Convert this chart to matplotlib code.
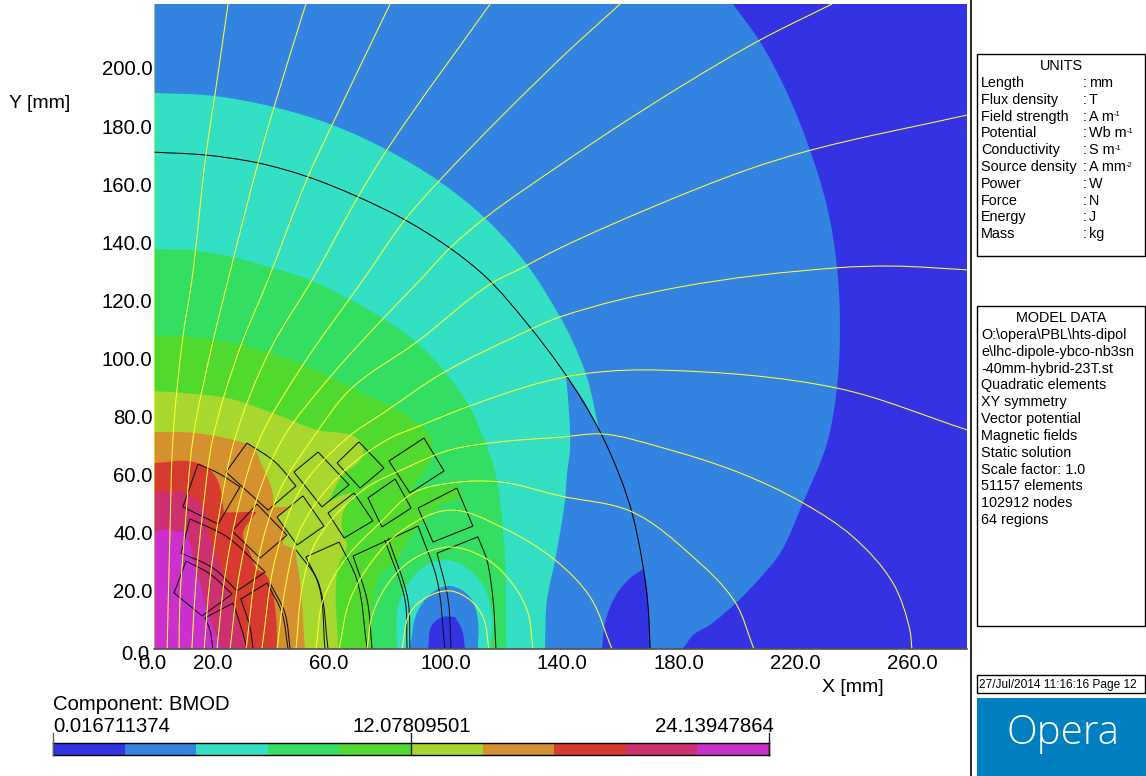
import matplotlib
matplotlib.use('Agg')
import numpy as np
from matplotlib import pyplot
from matplotlib.colors import BoundaryNorm, ListedColormap
from matplotlib.patches import PathPatch, Rectangle
from matplotlib.path import Path
from matplotlib.transforms import ScaledTranslation

pyplot.rcParams['font.family'] = ['Liberation Sans', 'DejaVu Sans']

X_TICKS = [0, 20, 60, 100, 140, 180, 220, 260]
Y_TICKS = [0, 20, 40, 60, 80, 100, 120, 140, 160, 180, 200]

# BMOD bands, colours from low to high
LEVELS = [0.016711374, 2.429, 4.841, 7.253, 9.665, 12.07809501, 14.490, 16.902, 19.315, 21.727, 24.13947864]
COLOURS = ['#3333E4', '#3383E0', '#33E0C4', '#33DE62', '#50DA30',
           '#A8D830', '#D59030', '#D63A30', '#CC3070', '#CC30CC']

# contour outlines in mm
blue_band = [(0, 222), (198.6, 222), (207.9, 209), (217.2, 191.4), (225, 171.8), (230.9, 152.2),
             (234.3, 131.5), (235.3, 108.8), (234.3, 90.2), (230.9, 70.9), (222.6, 50.3), (214.8, 33),
             (207.9, 24.4), (200, 16.2), (190.7, 8.3), (184.9, 4.8), (180.8, 0), (0, 0)]
dark_lobe = [(153.7, 0), (154.7, 8.9), (158.1, 17.9), (163.3, 24.4), (167.8, 27.5), (168.8, 23.8),
             (169.8, 11), (170.2, 0)]
teal_band = [(0, 191.4), (20.2, 190.4), (40.8, 186.6), (61.1, 180.4), (79.9, 171.8), (98.1, 160.8),
             (114.2, 147.7), (128, 132.2), (139.3, 114.3), (143.4, 106.4), (148.5, 93.6), (152.7, 75.4),
             (147.5, 85.5), (141.3, 94.3), (142.4, 81.2), (142.7, 68.5), (141.7, 60.6), (141, 51.3),
             (137.6, 30.6), (134.8, 16.9), (134.1, 0), (0, 0)]
green_band = [(0, 137.7), (13.4, 137.2), (27.1, 134.9), (40.8, 131.1), (53.5, 127), (66.9, 120.5),
              (78.9, 113.6), (89.9, 105.7), (99.5, 95.7), (107.7, 84.4), (113.2, 72.3), (117, 61),
              (118.7, 51.3), (120.4, 30.6), (120.8, 0), (0, 0)]
teal_lobe = [(83.4, 0), (83.7, 14.5), (88.9, 24.8), (94.7, 29.6), (101.5, 30.6), (109.4, 26.2),
             (114.2, 19.3), (116, 8.9), (115.3, 0)]
blue_lobe = [(87.8, 0), (90.2, 12.4), (95.7, 19.6), (101.5, 21.7), (108.4, 17.9), (111.1, 10), (111.1, 0)]
deep_lobe = [(94, 0), (95.4, 8.3), (99.1, 11), (103.3, 11), (105.7, 6.5), (106.7, 0)]
lime_band = [(0, 108.1), (9.9, 107.7), (30.5, 104.6), (51.1, 97.8), (70.7, 88.5), (83.4, 82.3),
             (90.2, 77.8), (93.7, 74.7), (95.7, 69.5), (94, 63.3), (87.8, 54.7), (95.7, 55.4),
             (103.9, 56.5), (106.3, 52.3), (98.1, 49.6), (93, 44.4), (87.8, 38.6), (83.4, 30.6),
             (77.5, 25.5), (75.1, 16.9), (74.8, 0), (0, 0)]
yellow_band = [(0, 88.8), (9.9, 88.1), (25, 86.4), (40.8, 81.2), (55.9, 75.4), (69.6, 72.6),
               (71.7, 69.2), (70.7, 65.1), (64.8, 59.9), (59.7, 50.6), (64.8, 53), (69, 54),
               (64.8, 46.8), (64.8, 39.2), (66.2, 35.8), (63.1, 28.2), (63.1, 0), (0, 0)]
orange_band = [(0, 74.7), (13.4, 74.4), (28.5, 71.6), (34, 69.5), (36.7, 64), (40.5, 54.7),
               (41.2, 48.9), (46.7, 48.9), (42.2, 45.4), (45.6, 41), (44.2, 36.1), (48.4, 34.1),
               (50.1, 22.7), (51.8, 0), (0, 0)]
red_band = [(0, 64), (13.4, 64.4), (20.2, 60.6), (22.6, 55.8), (24, 47), (35.3, 47.2), (30.5, 39.6),
            (33, 33), (35.3, 27.5), (38.1, 25.8), (39.8, 22.7), (41.9, 11), (42.2, 0), (0, 0)]
crimson_band = [(0, 54), (10.6, 53.7), (17.5, 47.8), (18.5, 41), (20.2, 35.8), (24.4, 23.8),
                (28.5, 11), (31.9, 0), (0, 0)]
magenta_band = [(0, 40.3), (4.5, 41.3), (8.2, 40.3), (11.3, 41), (13, 33), (15.8, 22.7),
                (18.5, 12.4), (23.3, 0), (0, 0)]

# iron outer edge
iron_edge = [(0, 171), (17.8, 170), (35.7, 167.3), (52.8, 162.5), (70, 155.6), (86.1, 147.7),
             (101.5, 138), (114.2, 127.7), (128, 112), (141.3, 94.3), (152.7, 75.4), (159.9, 59.2),
             (164, 46.8), (167.4, 30.6), (169.5, 14.5), (170.2, 0)]

# coil blocks and arcs
coil_blocks = [
    [(11, 30.3), (19.2, 25.8), (26.8, 18.9), (16.5, 11.4), (6.9, 19.3), (11, 30.3)],
    [(12.3, 44.8), (25, 38.6), (38.1, 26.5), (28.5, 20), (20.2, 27.9), (9.3, 33), (12.3, 44.8)],
    [(15.1, 63.7), (22.6, 60.2), (29.5, 55.8), (22, 43), (9.9, 48.9), (15.1, 63.7)],
    [(31.9, 70.9), (41.5, 64.4), (48.7, 56.1), (39.1, 47.8), (24.7, 60.9), (31.9, 70.9)],
    [(35.3, 49.9), (45.6, 39.2), (36.4, 31.3), (26.8, 40.6), (35.3, 49.9)],
    [(51.1, 52.7), (58.3, 42.3), (49.1, 35.8), (42.2, 45.4), (51.1, 52.7)],
    [(56.3, 67.8), (66.9, 56.5), (57.6, 48.9), (48, 60.9), (56.3, 67.8)],
    [(70.3, 71.3), (78.9, 62.3), (70.7, 55.4), (62.8, 64), (70.3, 71.3)],
    [(92.6, 72.6), (99.5, 61.3), (87.8, 53.7), (80.6, 64.7), (92.6, 72.6)],
    [(82.7, 58.5), (88.2, 48.5), (78.2, 42), (73.4, 52), (82.7, 58.5)],
    [(68.6, 53.7), (75.1, 44.1), (65.2, 38.2), (59.7, 46.8), (68.6, 53.7)],
    [(103.9, 55.4), (109.4, 42.3), (95.7, 36.8), (90.6, 48.5), (103.9, 55.4)],
]
coil_arcs = [
    [(20.2, 0), (19.2, 6.5), (17.5, 10.7), (27.1, 15.8), (30.5, 5.5), (31.9, 0)],
    [(34, 0), (32.9, 7.6), (29.8, 17.2), (38.8, 22.7), (43.9, 12.4), (46, 0)],
    [(39.8, 22.7), (44.9, 12.4), (46.7, 0)],
    [(48.7, 34.1), (55.9, 23.8), (58.7, 0)],
    [(59.7, 0), (56.9, 21.3), (52.1, 31.7), (63.5, 36.8), (69.6, 23.8), (73.1, 0)],
    [(74.8, 0), (73.1, 16.9), (68.3, 32), (90.6, 42.3), (97.1, 23.8), (99.8, 0)],
    [(79.2, 37.5), (86.1, 16.9), (86.8, 0)],
    [(80.3, 38.2), (87.1, 16.9), (87.8, 0)],
    [(101.9, 0), (100.9, 16.9), (97.1, 33), (111.1, 38.6), (114.2, 30.6), (116.3, 16.9), (117.3, 0)],
]

# flux lines
flux_lines = [
    [(0, 0), (0, 222)],
    [(25.4, 222), (20.9, 190.7), (17.8, 170), (13, 127), (9.9, 107.4), (6.5, 72.6), (5.5, 41), (4.5, 0)],
    [(52.1, 222), (41.2, 186.6), (35.7, 167.3), (25.4, 127), (20.2, 105.7), (13.4, 72.6), (10.6, 41),
     (8.9, 16.9), (8.6, 0)],
    [(81, 222), (61.1, 180.4), (52.8, 162.5), (39.1, 127), (29.5, 103.6), (20.2, 72.6), (16.8, 47.8),
     (14.4, 23.8), (13, 0)],
    [(115.3, 222), (79.9, 171.8), (70, 155.6), (54.2, 127), (39.8, 102.9), (27.8, 72.6), (22.6, 47.8),
     (19.2, 23.8), (17.2, 0)],
    [(159.9, 222), (139.3, 203.1), (98.1, 161.4), (86.1, 147.7), (71.7, 127), (51.1, 97.8), (36.4, 72.6),
     (29.5, 51.3), (24.4, 25.5), (21.6, 0)],
    [(232.6, 222), (207.9, 209.6), (181.5, 194.1), (159.9, 180.4), (139.3, 166.6), (113.6, 148.4),
     (101.5, 138), (91.3, 127), (78.2, 113.3), (60.4, 93.6), (44.3, 72.6), (35.7, 53), (29.5, 27.2), (26.1, 0)],
    [(279, 183.8), (225.7, 171.8), (203.4, 164.9), (171.2, 152.2), (139.3, 138), (124.9, 130.5), (116, 126),
     (90.2, 105.7), (67.2, 89.2), (54.5, 72.6), (43.2, 54.7), (35.7, 30.6), (31.6, 0)],
    [(279, 130.5), (253.5, 131.8), (234.3, 131.2), (180.4, 124.6), (139.3, 114.3), (126.6, 108.8), (99.1, 95),
     (78.6, 81.2), (66.2, 72.6), (50.1, 54.7), (41.5, 30.6), (37, 0)],
    [(279, 75.4), (234.3, 89.8), (173.6, 96), (149.6, 95), (132.4, 91.6), (107.4, 83.3), (90.2, 76.4),
     (81, 72.6), (63.8, 59.9), (50.1, 41), (44.9, 20.3), (42.2, 0)],
    [(48.7, 0), (51.1, 22.7), (55.9, 37.5), (71.7, 54.7), (86.8, 62.5), (101.5, 68.5), (118.7, 71.3),
     (139.3, 72.9), (154, 74), (173.6, 69.5), (201, 60.6), (222.6, 50.3), (239.8, 38.6), (253.5, 22.7),
     (259.3, 6.5), (260, 0)],
    [(55.6, 0), (58, 16.9), (66.2, 31.7), (77.5, 43.4), (88.9, 53.7), (101.5, 57.1), (118.7, 57.5),
     (139.3, 52.7), (164, 47.2), (184.9, 31.7), (199.3, 16.2), (205.8, 0)],
    [(63.5, 0), (67.2, 16.9), (75.1, 30.6), (85.4, 41), (101.5, 47.8), (119.7, 41.7), (137.6, 30.6),
     (149.6, 17.9), (157.1, 0)],
    [(73.1, 0), (75.1, 12.4), (82, 24.8), (90.2, 31.7), (101.5, 35.1), (112.9, 31.7), (121.1, 24.8),
     (128, 13.4), (130, 0)],
    [(85.1, 0), (87.8, 12.4), (93.7, 17.9), (101.5, 20), (108.4, 16.9), (112.9, 11), (114.9, 0)],
]

UNIT_NAMES = ['Length', 'Flux density', 'Field strength', 'Potential', 'Conductivity', 'Source density',
              'Power', 'Force', 'Energy', 'Mass']
UNIT_VALUES = ['mm', 'T', 'A m', 'Wb m', 'S m', 'A mm', 'W', 'N', 'J', 'kg']
UNIT_POWERS = ['', '', '-1', '-1', '-1', '-2', '', '', '', '']
MODEL_LINES = ['O:\\opera\\PBL\\hts-dipol', 'e\\lhc-dipole-ybco-nb3sn', '-40mm-hybrid-23T.st',
               'Quadratic elements', 'XY symmetry', 'Vector potential', 'Magnetic fields', 'Static solution',
               'Scale factor: 1.0', '51157 elements', '102912 nodes', '64 regions']


def curve_through(points, close=False):
    # bezier path through the read points, sharp bends stay sharp
    pts = np.array(points, dtype=float)
    verts = [pts[0]]
    codes = [Path.MOVETO]
    n = len(pts)

    # last leg down to the origin corner is a plain line
    for i in range(n - 1):
        p0, p1 = pts[i], pts[i + 1]
        seg = p1 - p0
        length = np.hypot(*seg)
        start = tangent(pts, i, seg / length)
        end = tangent(pts, i + 1, seg / length)
        verts += [p0 + start * length / 3, p1 - end * length / 3, p1]
        codes += [Path.CURVE4, Path.CURVE4, Path.CURVE4]

    if close:
        verts.append(pts[0])
        codes.append(Path.CLOSEPOLY)
    return Path(verts, codes)


def tangent(pts, i, fallback):
    if i == 0 or i == len(pts) - 1:
        return fallback
    a = pts[i] - pts[i - 1]
    b = pts[i + 1] - pts[i]
    a = a / np.hypot(*a)
    b = b / np.hypot(*b)
    if a @ b < 0.6:
        return fallback
    t = a + b
    return t / np.hypot(*t)


def fill_band(ax, outline, colour):
    ax.add_patch(PathPatch(curve_through(outline, close=True), facecolor=colour, edgecolor='none', linewidth=0))


def draw_line(ax, points, colour):
    ax.add_patch(PathPatch(curve_through(points), facecolor='none', edgecolor=colour, linewidth=0.75))


def draw_field(fig):
    ax = fig.add_axes([154 / 1146, 127 / 776, 813 / 1146, 645 / 776])
    ax.set_facecolor(COLOURS[0])
    ax.set_xlim(0, 278.9)
    ax.set_ylim(0, 222)

    fill_band(ax, blue_band, COLOURS[1])
    fill_band(ax, dark_lobe, COLOURS[0])
    fill_band(ax, teal_band, COLOURS[2])
    fill_band(ax, green_band, COLOURS[3])
    fill_band(ax, teal_lobe, COLOURS[2])
    fill_band(ax, blue_lobe, COLOURS[1])
    fill_band(ax, deep_lobe, COLOURS[0])
    fill_band(ax, lime_band, COLOURS[4])
    fill_band(ax, yellow_band, COLOURS[5])
    fill_band(ax, orange_band, COLOURS[6])
    fill_band(ax, red_band, COLOURS[7])
    fill_band(ax, crimson_band, COLOURS[8])
    fill_band(ax, magenta_band, COLOURS[9])

    draw_line(ax, iron_edge, 'black')
    for block in coil_blocks + coil_arcs:
        draw_line(ax, block, '#101010')
    for line in flux_lines:
        draw_line(ax, line, '#FFFF33')

    for side in ['top', 'right', 'left']:
        ax.spines[side].set_visible(False)
    ax.spines['bottom'].set_color('#505050')
    ax.spines['bottom'].set_linewidth(1.2)

    ax.set_xticks(X_TICKS, ['%.1f' % v for v in X_TICKS], fontsize=14.7)
    ax.set_yticks(Y_TICKS, ['%.1f' % v for v in Y_TICKS], fontsize=14.7)
    ax.tick_params(length=0)
    ax.tick_params(axis='x', pad=3.5)
    ax.tick_params(axis='y', pad=1)

    # the two 0.0 labels sit a little off their ticks
    ax.get_yticklabels()[0].set_transform(ax.get_yticklabels()[0].get_transform()
                                          + ScaledTranslation(-3 / 100, -3 / 100, fig.dpi_scale_trans))
    ax.get_xticklabels()[0].set_transform(ax.get_xticklabels()[0].get_transform()
                                          + ScaledTranslation(-2 / 100, 0, fig.dpi_scale_trans))
    return ax


def draw_scale(fig):
    ax = fig.add_axes([53 / 1146, 21 / 776, 716 / 1146, 12 / 776])
    ax.pcolormesh(LEVELS, [0, 1], [LEVELS[:-1]], cmap=ListedColormap(COLOURS), norm=BoundaryNorm(LEVELS, 10))
    ax.set_xticks([])
    ax.set_yticks([])
    for spine in ax.spines.values():
        spine.set_color('black')
        spine.set_linewidth(1)


def draw_panels(fig):
    panel = fig.add_axes([0, 0, 1, 1])
    panel.set_xlim(0, 1146)
    panel.set_ylim(776, 0)
    panel.axis('off')
    panel.patch.set_alpha(0)

    panel.plot([971, 971], [0, 776], color='black', linewidth=1.2)
    panel.text(9, 103, 'Y [mm]', fontsize=14, va='center')
    panel.text(822, 687, 'X [mm]', fontsize=14, va='center')

    # scale texts
    panel.text(53, 704, 'Component: BMOD', fontsize=14.6, va='center')
    panel.text(53, 726, '%.9f' % LEVELS[0], fontsize=14.7, va='center')
    panel.text(412, 726, '%.8f' % LEVELS[5], fontsize=14.7, va='center', ha='center')
    panel.text(774, 726, '%.8f' % LEVELS[10], fontsize=14.7, va='center', ha='right')
    panel.plot([53, 53], [733, 755], color='#606060', linewidth=1)
    panel.plot([411, 411], [733, 755], color='#202020', linewidth=1)
    panel.plot([769, 769], [733, 755], color='#202020', linewidth=1)

    # units box
    panel.add_patch(Rectangle((977, 54), 168, 202, fc='white', ec='black', lw=1))
    panel.text(1061, 66, 'UNITS', fontsize=10.4, va='center', ha='center')
    for i, name in enumerate(UNIT_NAMES):
        y = 83 + i * 16.8
        panel.text(981, y, name, fontsize=10.4, va='center')
        panel.text(1083, y, ':', fontsize=10.4, va='center')
        value = panel.text(1089, y, UNIT_VALUES[i], fontsize=10.4, va='center')
        if UNIT_POWERS[i]:
            panel.annotate(UNIT_POWERS[i], xy=(1, 0.38), xycoords=value, fontsize=5.5, va='bottom', ha='left')

    # model data box
    panel.add_patch(Rectangle((977, 306), 168, 320, fc='white', ec='black', lw=1))
    panel.text(1061, 318, 'MODEL DATA', fontsize=10.4, va='center', ha='center')
    for i, line in enumerate(MODEL_LINES):
        panel.text(981, 335 + i * 16.83, line, fontsize=10.4, va='center')

    # date and logo
    panel.add_patch(Rectangle((977, 675), 168, 18, fc='white', ec='black', lw=1))
    panel.text(979, 685, '27/Jul/2014 11:16:16 Page 12', fontsize=8.6, va='center')
    panel.add_patch(Rectangle((977, 698), 169, 78, fc='#0080C0', ec='none'))
    panel.text(1063, 733, 'Opera', fontsize=29, color='white', family='Open Sans', weight='light',
               va='center', ha='center')


def main():
    fig = pyplot.figure(figsize=(11.46, 7.76), dpi=100, facecolor='white')
    draw_field(fig)
    draw_scale(fig)
    draw_panels(fig)
    fig.savefig('out.png', dpi=100)


if __name__ == '__main__':
    main()
